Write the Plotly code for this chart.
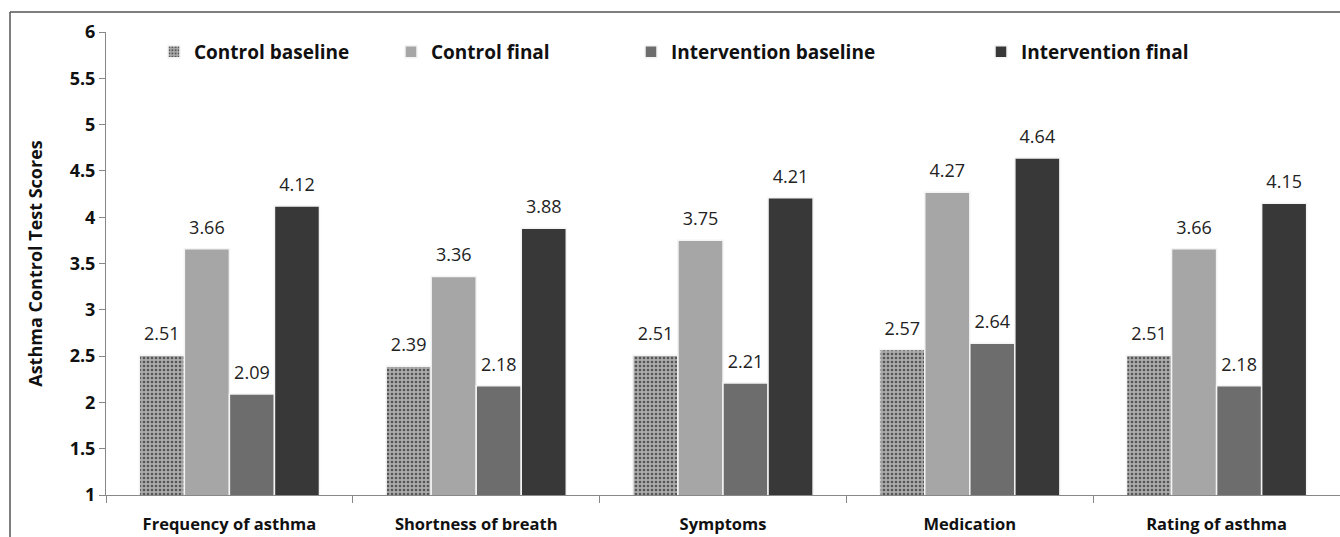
import plotly.graph_objects as go

categories = ["Frequency of asthma", "Shortness of breath", "Symptoms", "Medication", "Rating of asthma"]
series_names = ["Control baseline", "Control final", "Intervention baseline", "Intervention final"]
control_baseline = [2.51, 2.39, 2.51, 2.57, 2.51]
control_final = [3.66, 3.36, 3.75, 4.27, 3.66]
intervention_baseline = [2.09, 2.18, 2.21, 2.64, 2.18]
intervention_final = [4.12, 3.88, 4.21, 4.64, 4.15]
y_ticks = [1, 1.5, 2, 2.5, 3, 3.5, 4, 4.5, 5, 5.5, 6]

values = [control_baseline, control_final, intervention_baseline, intervention_final]
colors = ["#a0a0a0", "#a6a6a6", "#6d6d6d", "#383838"]
legend_ids = ["legend", "legend2", "legend3", "legend4"]

W, H = 1340, 537
L, R, T, B = 106, 0, 32, 42
PW = W - L - R
PH = H - T - B
legend_px = [154, 391, 631, 981]          # left edge of each legend (px)
legend_x = [(p - L) / PW for p in legend_px]
FONT = "Open Sans, Noto Sans, sans-serif"
Y_RANGE = [1, 6]
LABEL_LIFT = 7 / PH * (Y_RANGE[1] - Y_RANGE[0])   # extra gap above bars for value labels

fig = go.Figure()
for i, (name, vals) in enumerate(zip(series_names, values)):
    marker = dict(color=colors[i], line=dict(color="#f4f4f4", width=1.5))
    if i == 0:
        marker["pattern"] = dict(shape=".", bgcolor="#ababab", fgcolor="#555555",
                                 size=4, solidity=0.35, fillmode="replace")
    fig.add_trace(go.Bar(
        x=categories, y=vals, name=name, marker=marker,
        legend=legend_ids[i], showlegend=True, hoverinfo="x+y+name",
    ))
# value labels: transparent copies on an overlaid axis shifted slightly up
for i, (name, vals) in enumerate(zip(series_names, values)):
    fig.add_trace(go.Bar(
        x=categories, y=vals, name=name, yaxis="y2",
        marker=dict(color="rgba(0,0,0,0)", line=dict(width=0)),
        text=[f"{v:.2f}" for v in vals], textposition="outside", cliponaxis=False,
        textfont=dict(family=FONT, size=18, color="#222"),
        showlegend=False, hoverinfo="skip",
    ))

layout_legends = {}
for lid, lx in zip(legend_ids, legend_x):
    layout_legends[lid] = dict(
        orientation="h", yanchor="middle", y=(H - B - 52) / PH, xanchor="left", x=lx,
        bgcolor="rgba(0,0,0,0)", itemwidth=30, visible=True,
        font=dict(family=FONT, size=19, color="#111", weight="bold"),
    )

fig.update_layout(
    width=W, height=H,
    margin=dict(l=L, r=R, t=T, b=B),
    paper_bgcolor="white", plot_bgcolor="white",
    barmode="group", bargap=0.27, bargroupgap=0.0,
    font=dict(family=FONT, color="#111"),
    showlegend=True,
    yaxis2=dict(overlaying="y", range=[Y_RANGE[0] - LABEL_LIFT, Y_RANGE[1] - LABEL_LIFT],
                visible=False, showgrid=False, zeroline=False),
    **layout_legends,
)
fig.update_yaxes(
    selector=dict(overlaying=None),
    range=Y_RANGE, tickvals=y_ticks, ticktext=[f"<b>{t:g}</b>" for t in y_ticks],
    ticks="outside", ticklen=6, tickcolor="#888", showline=True, linecolor="#888",
    linewidth=1, showgrid=False, zeroline=False,
    tickfont=dict(size=18, color="#111"),
    title=dict(text="<b>Asthma Control Test Scores</b>", font=dict(size=18, color="#111"), standoff=22),
)
fig.update_xaxes(
    tickvals=categories, ticktext=[f"<b>{c}</b>" for c in categories],
    tickson="boundaries", ticks="outside", ticklen=7, tickcolor="#888",
    showline=True, linecolor="#888", linewidth=1, showgrid=False,
    tickfont=dict(size=16.5, color="#111"), ticklabelstandoff=14, automargin=False,
)
# outer chart frame (top and left edges visible)
fx = (10 - L) / PW
fy = (H - B - 12) / PH
fig.add_shape(type="line", xref="paper", yref="paper", x0=fx, x1=1.0, y0=fy, y1=fy,
              line=dict(color="#555", width=1.5))
fig.add_shape(type="line", xref="paper", yref="paper", x0=fx, x1=fx, y0=-0.2, y1=fy,
              line=dict(color="#555", width=1.5))

fig.write_html("out.html", config={"displayModeBar": False},
               post_script="document.body.style.margin='0';document.body.style.overflow='hidden';")
